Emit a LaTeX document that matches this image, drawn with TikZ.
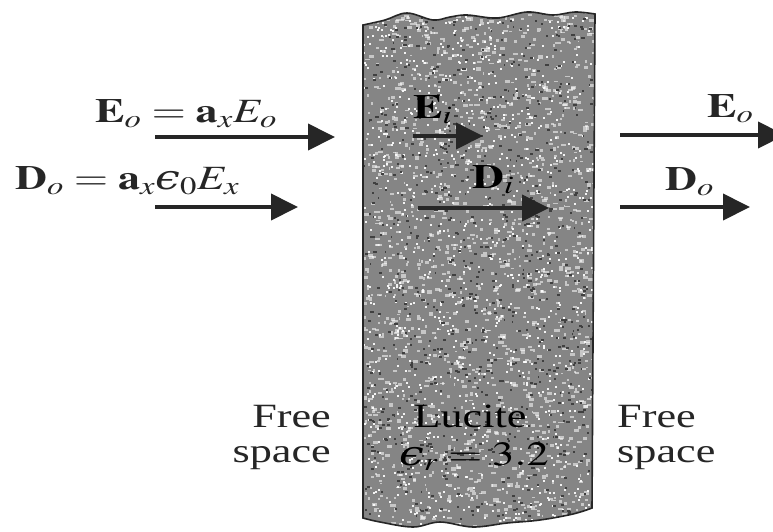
\documentclass[tikz,border=0pt]{standalone}
\usepackage{mathptmx}
\usepackage{fontspec}
\setmainfont{Liberation Serif}
\newfontfamily\dvsi{DejaVu Serif Italic}
\usetikzlibrary{arrows.meta}
\newcommand\lunate{\mbox{\dvsi ϵ}}
\newcommand\widen[1]{\scalebox{1.3}[1]{#1}}
\tikzset{
  vec/.style={line width=4pt, black!85, -{Triangle[length=27pt,width=26pt]}},
  lbl/.style={inner sep=0pt, text=black!85, font=\fontsize{34}{40}\selectfont},
}
\begin{document}
\begin{tikzpicture}[x=1pt,y=-1pt]
    \useasboundingbox (0,0) rectangle (773,531);
    % the lucite slab
    \pgfmathsetseed{7}
    \begin{scope}
        \path[clip, save path=\slabp] plot[smooth, tension=0.6] coordinates {(363,25) (385,20) (407,13) (433,20) (450,17) (467,15) (497,18) (527,12) (553,15) (575,12) (595,14)}
            -- (592,508)
            -- plot[smooth, tension=0.6] coordinates {(592,508) (573,514) (540,520) (507,523) (473,527) (440,522) (413,527) (380,522) (363,518)} -- cycle;
        \fill[black!48] (350,0) rectangle (610,531);
        \foreach \i in {1,...,1500}
            \fill[white, opacity=0.55] ({363+232*rnd},{10+520*rnd}) rectangle ++({1.5+4*rnd},{1.5+2*rnd});
        \foreach \i in {1,...,1000}
            \fill[white, opacity=0.9] ({363+232*rnd},{10+520*rnd}) rectangle ++(2,2);
        \foreach \i in {1,...,800}
            \fill[black!75] ({363+232*rnd},{10+520*rnd}) rectangle ++({1.5+2*rnd},2);
    \end{scope}
    \draw[line width=1.6pt, black!85, use path=\slabp];
    % incident side
    \coordinate (eLa) at (155,137);  \coordinate (eLb) at (335,137);
    \coordinate (dLa) at (155,207);  \coordinate (dLb) at (298,207);
    \draw[vec] (eLa) -- (eLb);
    \draw[vec] (dLa) -- (dLb);
    \node[lbl, anchor=base west] (eL) at (95,122) {\widen{$\mathbf{E}_o = \mathbf{a}_x E_o$}};
    \node[lbl, anchor=base west] (dL) at (15,189) {\widen{$\mathbf{D}_o = \mathbf{a}_x \lunate_0 E_x$}};
    % inside the slab
    \coordinate (eMa) at (413,136);  \coordinate (eMb) at (483,136);
    \coordinate (dMa) at (418,208);  \coordinate (dMb) at (549,208);
    \draw[vec] (eMa) -- (eMb);
    \draw[vec] (dMa) -- (dMb);
    \node[lbl, text=black, anchor=base west] (eM) at (413,118) {\widen{$\mathbf{E}_i$}};
    \node[lbl, text=black, anchor=base west] (dM) at (472,188) {\widen{$\mathbf{D}_i$}};
    % transmitted side
    \coordinate (eRa) at (620,135);  \coordinate (eRb) at (785,135);
    \coordinate (dRa) at (620,207);  \coordinate (dRb) at (750,207);
    \draw[vec] (eRa) -- (eRb);
    \draw[vec] (dRa) -- (dRb);
    \node[lbl, anchor=base west] (eR) at (707,117) {\widen{$\mathbf{E}_o$}};
    \node[lbl, anchor=base west] (dR) at (665,190) {\widen{$\mathbf{D}_o$}};
    % region names
    \node[lbl, anchor=base east] (freeL) at (331,427) {\widen{Free}};
    \node[lbl, anchor=base east] (spaceL) at (331,462) {\widen{space}};
    \node[lbl, text=black, anchor=base] (lucite) at (470,427) {\widen{Lucite}};
    \node[lbl, text=black, anchor=base] (epsr) at (474,465) {\widen{$\lunate_r = 3.2$}};
    \node[lbl, anchor=base west] (freeR) at (617,427) {\widen{Free}};
    \node[lbl, anchor=base west] (spaceR) at (617,462) {\widen{space}};
\end{tikzpicture}
\end{document}
